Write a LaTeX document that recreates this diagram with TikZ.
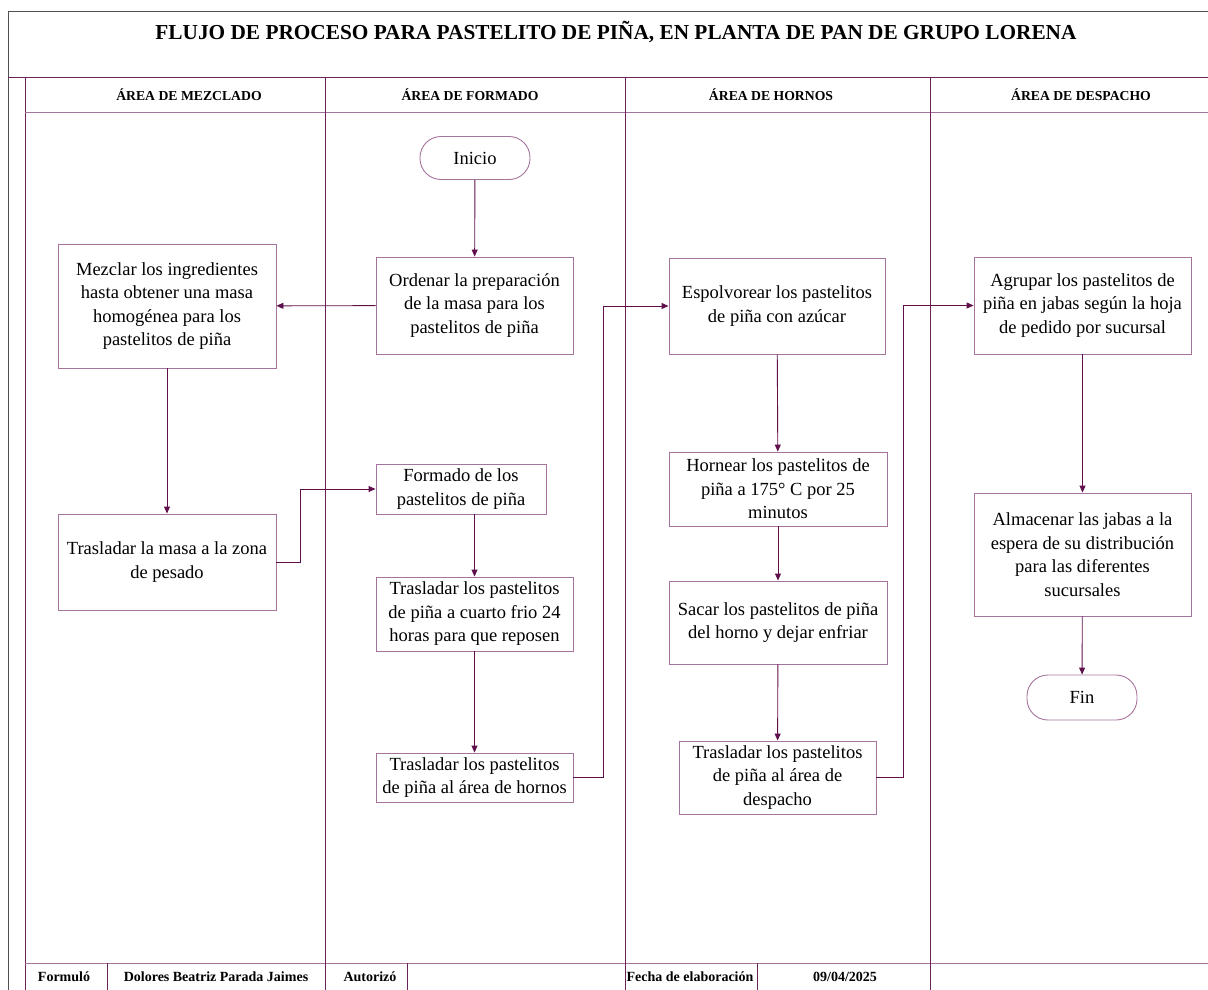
\documentclass[tikz,border=0pt]{standalone}
\usepackage{fontspec}
\setmainfont{Liberation Serif}
\usepackage{tikz}
\usetikzlibrary{arrows.meta,positioning,calc}
\usepackage{xcolor}
\definecolor{laneline}{RGB}{105,35,90}
\definecolor{boxline}{RGB}{165,115,155}
\definecolor{flowline}{RGB}{95,15,75}
\definecolor{frameline}{RGB}{80,80,80}

\tikzset{
  proc/.style={draw=boxline, line width=0.9pt, align=center, inner sep=2pt,
    font=\fontsize{18.5}{23.5}\selectfont},
  term/.style={proc, rounded corners=21pt},
  flow/.style={draw=flowline, line width=0.9pt, -{Triangle[length=7pt,width=6pt]}},
  lane/.style={draw=laneline, line width=0.8pt},
  thin lane/.style={draw=boxline, line width=0.8pt},
  lanehead/.style={font=\fontsize{13.7}{16}\selectfont\bfseries},
  foot/.style={font=\fontsize{14}{16}\selectfont\bfseries}
}

\begin{document}
\begin{tikzpicture}[x=1pt, y=-1pt]
  \useasboundingbox (0,0) rectangle (1208,990);
  % frame and lanes
  \draw[frameline, line width=0.9pt] (8,990) -- (8,11) -- (1208,11);
  \draw[lane] (8,77) -- (1208,77);
  \draw[lane] (25,77) -- (25,990);
  \draw[thin lane] (25,112) -- (1208,112);
  \draw[thin lane] (25,963) -- (1208,963);
  \foreach \x in {325,625,930}
    \draw[lane] (\x,77) -- (\x,990);
  \foreach \x in {107,407,757}
    \draw[lane] (\x,963) -- (\x,990);

  \node[font=\fontsize{21.3}{25}\selectfont\bfseries] (title) at (616,32)
    {FLUJO DE PROCESO PARA PASTELITO DE PIÑA, EN PLANTA DE PAN DE GRUPO LORENA};
  \node[lanehead] (hmezcla) at (189,95) {ÁREA DE MEZCLADO};
  \node[lanehead] (hformado) at (470,95) {ÁREA DE FORMADO};
  \node[lanehead] (hhornos) at (771,95) {ÁREA DE HORNOS};
  \node[lanehead] (hdespacho) at (1081,95) {ÁREA DE DESPACHO};

  % steps
  \node[term, minimum width=110pt, minimum height=43pt] (inicio) at (475,158) {Inicio};
  \node[proc, minimum width=197pt, minimum height=97pt] (ordenar) at (474.5,305.5)
    {Ordenar la preparación\\de la masa para los\\pastelitos de piña};
  \node[proc, minimum width=218pt, minimum height=124pt] (mezclar) at (167,306)
    {Mezclar los ingredientes\\hasta obtener una masa\\homogénea para los\\pastelitos de piña};
  \node[proc, minimum width=218pt, minimum height=96pt] (trasmasa) at (167,562)
    {Trasladar la masa a la zona\\de pesado};
  \node[proc, minimum width=170pt, minimum height=50pt] (formado) at (461,489)
    {Formado de los\\pastelitos de piña};
  \node[proc, minimum width=197pt, minimum height=74pt] (cuarto) at (474.5,614)
    {Trasladar los pastelitos\\de piña a cuarto frio 24\\horas para que reposen};
  \node[proc, minimum width=197pt, minimum height=49pt] (llevahornos) at (474.5,777.5)
    {Trasladar los pastelitos\\de piña al área de hornos};
  \node[proc, minimum width=216pt, minimum height=96pt] (espolvorear) at (777,306)
    {Espolvorear los pastelitos\\de piña con azúcar};
  \node[proc, minimum width=218pt, minimum height=74pt] (hornear) at (778,489)
    {Hornear los pastelitos de\\piña a 175° C por 25\\minutos};
  \node[proc, minimum width=218pt, minimum height=83pt] (sacar) at (778,622.5)
    {Sacar los pastelitos de piña\\del horno y dejar enfriar};
  \node[proc, minimum width=197pt, minimum height=73pt] (llevadespacho) at (777.5,777.5)
    {Trasladar los pastelitos\\de piña al área de\\despacho};
  \node[proc, minimum width=217pt, minimum height=97pt] (agrupar) at (1082.5,305.5)
    {Agrupar los pastelitos de\\piña en jabas según la hoja\\de pedido por sucursal};
  \node[proc, minimum width=217pt, minimum height=123pt] (almacenar) at (1082.5,554.5)
    {Almacenar las jabas a la\\espera de su distribución\\para las diferentes\\sucursales};
  \node[term, minimum width=110pt, minimum height=45pt] (fin) at (1082,697.5) {Fin};

  % connectors
  \draw[flow] (inicio) -- (ordenar);
  \draw[flow] (ordenar) -- (mezclar);
  \draw[flow] (mezclar) -- (trasmasa);
  \draw[flow] (trasmasa.east) -- ++(24,0) |- (formado.west);
  \draw[flow] (formado.south -| cuarto.north) -- (cuarto.north);
  \draw[flow] (cuarto) -- (llevahornos);
  \draw[flow] (llevahornos.east) -- ++(30,0) |- (espolvorear.west);
  \draw[flow] (espolvorear) -- (hornear);
  \draw[flow] (hornear) -- (sacar);
  \draw[flow] (sacar) -- (llevadespacho);
  \draw[flow] (llevadespacho.east) -- ++(27,0) |- (agrupar.west);
  \draw[flow] (agrupar) -- (almacenar);
  \draw[flow] (almacenar) -- (fin);

  % footer
  \node[foot] (formulo) at (64,977) {Formuló};
  \node[foot] (autor) at (216,977) {Dolores Beatriz Parada Jaimes};
  \node[foot] (autorizo) at (370,977) {Autorizó};
  \node[foot] (fecha) at (690,977) {Fecha de elaboración};
  \node[foot] (fechaval) at (845,977) {09/04/2025};
\end{tikzpicture}
\end{document}
